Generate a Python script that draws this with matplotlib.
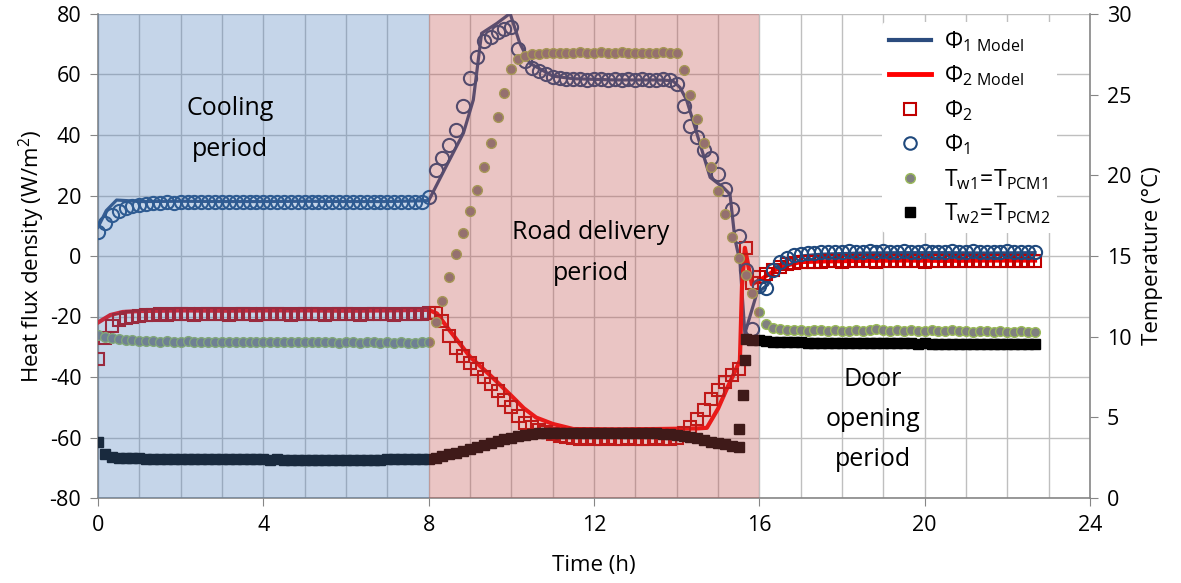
import numpy as np
import matplotlib
matplotlib.use('Agg')
import matplotlib.pyplot as plt
from matplotlib.lines import Line2D

plt.rcParams['font.family'] = ['Open Sans', 'DejaVu Sans']
plt.rcParams['mathtext.fontset'] = 'custom'
plt.rcParams['mathtext.rm'] = 'Open Sans'
plt.rcParams['mathtext.it'] = 'Open Sans:italic'
plt.rcParams['mathtext.bf'] = 'Open Sans:bold'
plt.rcParams['axes.unicode_minus'] = False

# measured series: one sample every 10 min, 0 .. 22.67 h
t = np.arange(137) / 6.0

# heat flux phi1 (W/m2)
phi1_cool = [8.0, 11.0, 13.5, 15.0, 16.0, 16.6, 17.0, 17.3, 17.5, 17.6,
             17.7, 17.6, 17.8, 17.7, 17.8, 17.9, 17.7, 17.8, 17.8, 17.7,
             17.9, 17.8, 17.7, 17.8, 17.9, 17.8, 17.8, 17.7, 17.8, 17.9,
             17.8, 17.7, 17.8, 17.8, 17.9, 17.7, 17.8, 17.8, 17.7, 17.8,
             17.9, 17.8, 17.7, 17.8, 17.8, 17.7, 17.8, 17.9, 19.5]
phi1_road = [28.5, 32.5, 36.8, 41.8, 49.5, 58.8, 65.8, 71.0, 72.5, 74.0,
             75.0, 75.8, 68.5, 64.5, 62.3, 61.0, 60.0, 59.3, 58.9, 58.6,
             58.4, 58.5, 58.3, 58.4, 58.5, 58.3, 58.4, 58.2, 58.4, 58.3,
             58.4, 58.2, 58.3, 58.4, 58.2, 57.0, 49.5, 43.0, 39.5, 35.0,
             32.5, 27.0, 22.0, 15.5, 6.5, -4.5, -24.0, -10.0]
phi1_door = [-10.5, -4.5, -2.0, -0.5, 0.2, 0.6, 0.9, 1.1, 1.2, 1.3,
             1.4, 1.3, 1.5, 1.4, 1.3, 1.5, 1.4, 1.6, 1.4, 1.3,
             1.5, 1.4, 1.3, 1.5, 1.4, 1.3, 1.4, 1.5, 1.3, 1.4,
             1.5, 1.3, 1.4, 1.4, 1.3, 1.5, 1.4, 1.3, 1.4, 1.4]

# heat flux phi2 (W/m2)
phi2_cool = [-34.0, -27.0, -23.0, -21.3, -20.5, -20.0, -19.7, -19.5, -19.4, -19.3,
             -19.4, -19.3, -19.2, -19.3, -19.4, -19.2, -19.3, -19.3, -19.2, -19.4,
             -19.3, -19.2, -19.3, -19.4, -19.3, -19.2, -19.3, -19.3, -19.4, -19.2,
             -19.3, -19.3, -19.2, -19.4, -19.3, -19.2, -19.3, -19.3, -19.4, -19.3,
             -19.2, -19.3, -19.3, -19.4, -19.2, -19.3, -19.3, -19.2, -19.0]
phi2_road = [-19.0, -21.5, -26.5, -30.5, -33.0, -35.3, -37.5, -40.0, -42.3, -44.5,
             -47.5, -50.0, -53.0, -55.3, -56.5, -57.5, -58.2, -58.8, -59.4, -59.8,
             -60.2, -60.4, -60.3, -60.5, -60.4, -60.3, -60.5, -60.4, -60.3, -60.5,
             -60.4, -60.5, -60.3, -60.4, -60.5, -60.2, -58.5, -56.5, -54.0, -50.8,
             -47.3, -44.3, -41.5, -39.3, -37.2, 2.5, -9.0, -6.8]
phi2_door = [-6.0, -4.5, -3.5, -2.8, -2.4, -2.1, -2.0, -1.9, -1.9, -1.8,
             -1.8, -1.9, -1.7, -1.8, -1.8, -1.7, -1.9, -1.8, -1.7, -1.8,
             -1.8, -1.7, -1.8, -1.9, -1.8, -1.7, -1.8, -1.8, -1.7, -1.8,
             -1.8, -1.7, -1.8, -1.8, -1.7, -1.8, -1.8, -1.7, -1.8, -1.8]

# wall / PCM temperature 1 (degC)
tw1_cool = [10.1, 10.0, 9.9, 9.85, 9.8, 9.8, 9.75, 9.75, 9.75, 9.7,
            9.75, 9.7, 9.7, 9.75, 9.7, 9.7, 9.7, 9.65, 9.7, 9.7,
            9.7, 9.65, 9.7, 9.7, 9.65, 9.7, 9.65, 9.65, 9.7, 9.65,
            9.65, 9.7, 9.65, 9.65, 9.65, 9.6, 9.65, 9.65, 9.6, 9.65,
            9.65, 9.6, 9.65, 9.6, 9.65, 9.6, 9.6, 9.65, 9.7]
tw1_road = [10.9, 12.2, 13.7, 15.1, 16.4, 17.8, 19.1, 20.5, 22.0, 23.6,
            25.1, 26.6, 27.2, 27.4, 27.5, 27.55, 27.6, 27.6, 27.6, 27.6,
            27.6, 27.65, 27.6, 27.6, 27.65, 27.6, 27.6, 27.65, 27.6, 27.6,
            27.6, 27.6, 27.6, 27.65, 27.6, 27.6, 26.5, 25.0, 23.5, 22.0,
            20.5, 19.0, 17.6, 16.2, 14.9, 13.8, 12.7, 11.5]
tw1_door = [10.8, 10.55, 10.45, 10.4, 10.4, 10.4, 10.35, 10.4, 10.4, 10.35,
            10.4, 10.35, 10.35, 10.4, 10.35, 10.4, 10.45, 10.4, 10.35, 10.4,
            10.35, 10.4, 10.35, 10.35, 10.4, 10.35, 10.35, 10.4, 10.35, 10.35,
            10.3, 10.35, 10.35, 10.3, 10.35, 10.3, 10.3, 10.35, 10.3, 10.3]

# wall / PCM temperature 2 (degC)
tw2_cool = [3.5, 2.7, 2.55, 2.5, 2.48, 2.46, 2.45, 2.44, 2.44, 2.43,
            2.43, 2.42, 2.42, 2.41, 2.42, 2.41, 2.4, 2.41, 2.4, 2.4,
            2.4, 2.39, 2.4, 2.39, 2.39, 2.38, 2.39, 2.38, 2.38, 2.38,
            2.38, 2.37, 2.38, 2.37, 2.37, 2.38, 2.37, 2.37, 2.38, 2.37,
            2.38, 2.38, 2.39, 2.39, 2.4, 2.4, 2.41, 2.42, 2.44]
tw2_road = [2.5, 2.6, 2.7, 2.8, 2.92, 3.05, 3.17, 3.3, 3.42, 3.53,
            3.65, 3.75, 3.85, 3.92, 3.97, 4.0, 4.02, 4.02, 4.02, 4.02,
            4.02, 4.02, 4.01, 4.02, 4.02, 4.01, 4.01, 4.02, 4.01, 4.01,
            4.01, 4.0, 4.0, 3.98, 3.96, 3.92, 3.86, 3.78, 3.7, 3.6,
            3.5, 3.42, 3.33, 3.25, 3.15, 9.85, 9.8, 9.78]
tw2_door = [9.75, 9.7, 9.68, 9.66, 9.65, 9.64, 9.63, 9.62, 9.62, 9.61,
            9.6, 9.6, 9.61, 9.6, 9.59, 9.6, 9.6, 9.59, 9.58, 9.59,
            9.58, 9.58, 9.57, 9.58, 9.57, 9.57, 9.56, 9.57, 9.56, 9.56,
            9.56, 9.55, 9.56, 9.55, 9.55, 9.54, 9.55, 9.54, 9.54, 9.55]
# extra fast samples at the door opening
tw2_jump_t = [15.52, 15.6, 15.65]
tw2_jump = [4.25, 6.4, 8.55]

# model curves
m1_t = [0, 0.2, 0.45, 0.7, 1.0, 2, 3, 4, 5, 6,
        7, 8.0, 8.4, 8.84, 9.08, 9.28, 9.65, 9.97, 10.2, 10.45,
        11.0, 11.5, 12.5, 13.5, 13.9, 14.08, 14.24, 14.5, 14.81, 14.95,
        15.1, 15.29, 15.41, 15.53, 15.65, 15.94, 16.2, 16.4, 16.7, 17.0,
        17.5, 18.5, 19.5, 20.5, 21.5, 22.67]
m1_phi = [9.5, 15, 18.5, 18.3, 18.0, 18.1, 18.0, 18.0, 18.1, 18.0,
          18.0, 18.3, 29, 40.6, 51.6, 73.6, 76.9, 80.2, 70.5, 63.7,
          59.5, 58.6, 58.2, 58.2, 58.0, 55.7, 51.6, 40, 26, 24.5,
          23, 20.4, 5.5, -1.7, -25.6, -12.3, -9.5, -4, -1, 0,
          0.6, 1.0, 1.1, 1.1, 1.0, 1.1]
m2_t = [0, 0.3, 0.6, 1.0, 2, 3, 4, 5, 6, 7,
        8.0, 8.2, 8.5, 9.0, 9.5, 10.0, 10.3, 10.6, 11.0, 11.5,
        12.5, 13.5, 14.5, 14.73, 15.0, 15.21, 15.4, 15.53, 15.58, 15.65,
        15.82, 16.1, 16.4, 16.7, 17.0, 17.5, 18.5, 19.5, 20.5, 21.5,
        22.67]
m2_phi = [-22, -19.5, -18.5, -18.2, -18.0, -18.1, -18.0, -18.0, -18.1, -18.0,
          -17.8, -19.0, -24.5, -33.3, -39.6, -46.2, -50.3, -53.4, -55.5, -57.2,
          -57.3, -57.2, -57, -56.8, -50.5, -44, -38.5, -34.5, -10, 2.7,
          -9.4, -7.2, -4.5, -3, -2, -1.8, -1.6, -1.5, -1.6, -1.5,
          -1.5]

phi1 = np.array(phi1_cool + phi1_road + phi1_door)
phi2 = np.array(phi2_cool + phi2_road + phi2_door)
tw1 = np.array(tw1_cool + tw1_road + tw1_door)
tw2 = np.array(tw2_cool + tw2_road + tw2_door)

c_m1 = '#2B4C7E'
c_m2 = '#FF0000'
c_p1 = '#1F497D'
c_p2 = '#C00000'
axis_gray = '#868686'
grid_gray = '#BFBFBF'

W, H = 1181, 583
fig = plt.figure(figsize=(W / 100, H / 100), dpi=100)
ax = fig.add_axes([98 / W, 1 - 498 / H, (1090 - 98) / W, (498 - 14) / H])
ax2 = ax.twinx()

ax.plot(m1_t, m1_phi, color=c_m1, lw=2.3, zorder=3)
ax.plot(m2_t, m2_phi, color=c_m2, lw=3.0, zorder=3)
ax.plot(t, phi2, ls='none', marker='s', ms=8.5, mfc='none', mec=c_p2, mew=1.5, zorder=4)
ax.plot(t, phi1, ls='none', marker='o', ms=9.5, mfc='none', mec=c_p1, mew=1.5, zorder=4)

ax2.plot(t, tw1, ls='none', marker='o', ms=7, mfc='#808080', mec='#9BBB59', mew=1, zorder=2)
ax2.plot(t, tw2, ls='none', marker='s', ms=6.5, mfc='black', mec='black', zorder=2)
ax2.plot(tw2_jump_t, tw2_jump, ls='none', marker='s', ms=6.5, mfc='black', mec='black', zorder=2)

# period shading drawn over the data, like the original
ax2.axvspan(0, 8, color='#4F81BD', alpha=0.33, lw=0, zorder=5)
ax2.axvspan(8, 16, color='#C0504D', alpha=0.33, lw=0, zorder=5)

ax.set_xlim(0, 24)
ax.set_ylim(-80, 80)
ax2.set_ylim(0, 30)
ax.set_xticks(range(0, 25, 4))
ax.set_xticks(range(0, 25), minor=True)
ax.set_yticks(range(-80, 81, 20))
ax2.set_yticks(range(0, 31, 5))

ax.grid(which='both', axis='x', color=grid_gray, lw=1)
ax.grid(which='major', axis='y', color=grid_gray, lw=1)
ax.set_axisbelow(True)

ax.tick_params(which='major', direction='out', length=6, color=axis_gray, labelsize=15.5, pad=6)
ax.tick_params(which='minor', length=0)
ax2.tick_params(direction='out', length=6, color=axis_gray, labelsize=15.5, pad=6)
for a in (ax, ax2):
    for s in a.spines.values():
        s.set_color(axis_gray)
        s.set_linewidth(1.2)
    a.spines['top'].set_visible(False)
ax.spines['right'].set_visible(False)
ax2.spines['left'].set_visible(False)
ax2.spines['bottom'].set_visible(False)

ax.set_xlabel('Time (h)', fontsize=16, labelpad=14)
ax.set_ylabel('Heat flux density (W/m$^2$)', fontsize=16, labelpad=2)
ax2.set_ylabel('Temperature (°C)', fontsize=16, labelpad=8)

txt = dict(fontsize=18, ha='center', va='center', linespacing=1.8,
           transform=ax.transData, zorder=10)
ax2.text(3.2, 42, 'Cooling\nperiod', **txt)
ax2.text(11.93, 1, 'Road delivery\nperiod', **txt)
ax2.text(18.75, -54, 'Door\nopening\nperiod', **txt)

handles = [
    Line2D([], [], color=c_m1, lw=3),
    Line2D([], [], color=c_m2, lw=3.5),
    Line2D([], [], ls='none', marker='s', ms=9, mfc='none', mec=c_p2, mew=1.5),
    Line2D([], [], ls='none', marker='o', ms=9, mfc='none', mec=c_p1, mew=1.5),
    Line2D([], [], ls='none', marker='o', ms=7, mfc='#808080', mec='#9BBB59', mew=1),
    Line2D([], [], ls='none', marker='s', ms=6.5, mfc='black', mec='black'),
]
labels = [r'$\mathrm{\Phi_{1\ Model}}$', r'$\mathrm{\Phi_{2\ Model}}$',
          r'$\mathrm{\Phi_{2}}$', r'$\mathrm{\Phi_{1}}$',
          r'$\mathrm{T_{w1}\!=\!T_{PCM1}}$', r'$\mathrm{T_{w2}\!=\!T_{PCM2}}$']
leg = ax2.legend(handles, labels, loc='upper left', bbox_to_anchor=(882 / W, 1 - 22 / H),
                 bbox_transform=fig.transFigure, borderaxespad=0, fontsize=16.5,
                 frameon=True, facecolor='white', edgecolor='none', framealpha=1,
                 handlelength=1.85, handletextpad=0.55, labelspacing=0.42, borderpad=0.3)
leg.set_zorder(20)

fig.savefig('out.png', dpi=100)
